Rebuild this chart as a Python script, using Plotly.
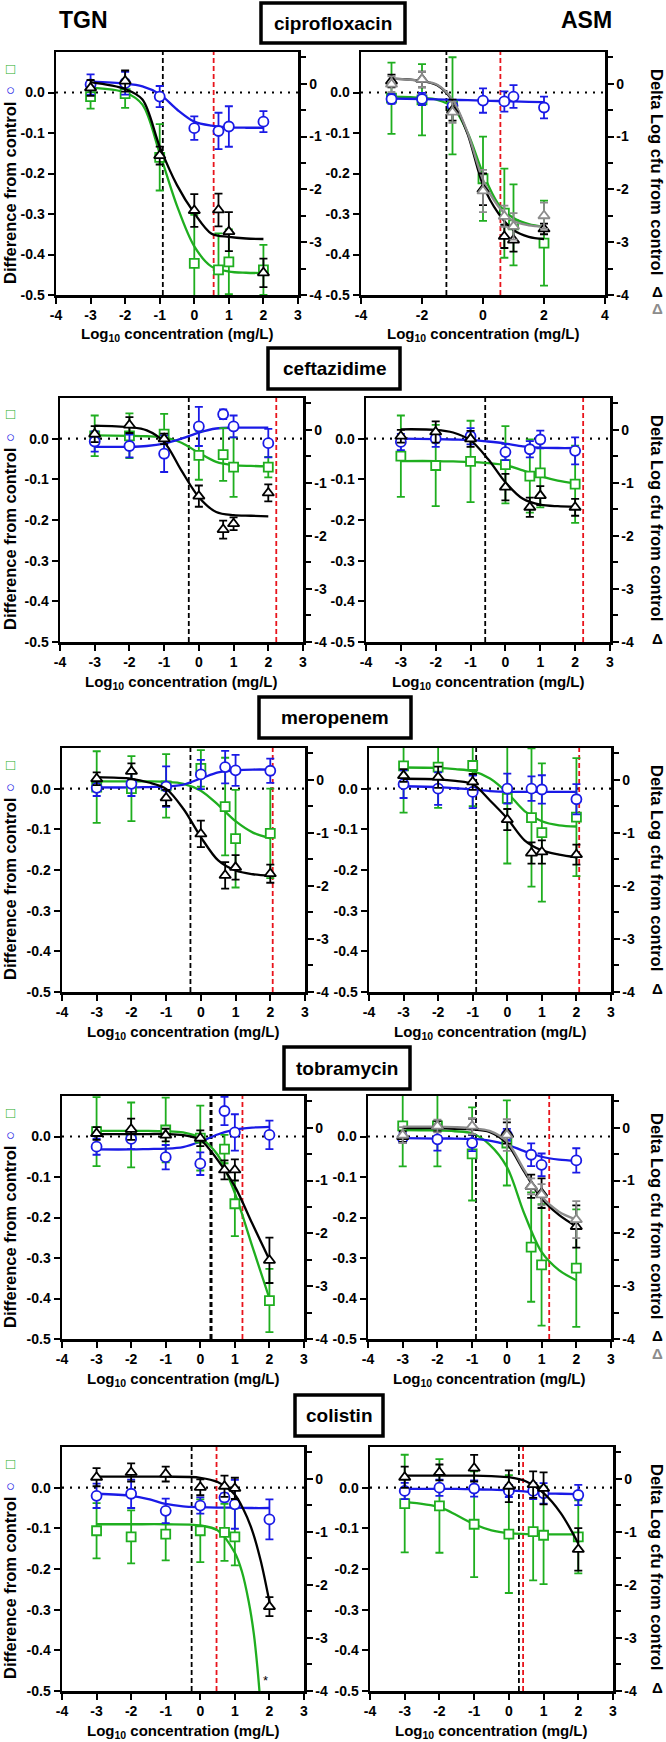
import plotly.graph_objects as go

W, H = 666, 1742

# ---------------- data ----------------
X_CONC = [-3, -2, -1, 0, 0.7, 1, 2]
CURVE_X = [-3, -2, -1.5, -1, -0.5, 0, 0.5, 1, 1.5, 2]

DRUGS = ["ciprofloxacin", "ceftazidime", "meropenem", "tobramycin", "colistin"]
MODELS = ["TGN", "ASM"]

# ciprofloxacin - TGN
CIP_TGN_GREEN = [-0.010, -0.003, -0.160, -0.422, -0.438, -0.418, -0.438]
CIP_TGN_GREEN_ERR = [0.030, 0.035, 0.082, 0.120, 0.090, 0.080, 0.062]
CIP_TGN_BLUE = [0.020, 0.023, -0.010, -0.088, -0.095, -0.084, -0.072]
CIP_TGN_BLUE_ERR = [0.025, 0.028, 0.026, 0.029, 0.045, 0.050, 0.026]
CIP_TGN_BLACK = [-0.08, 0.05, -1.36, -2.40, -2.39, -2.80, -3.58]
CIP_TGN_BLACK_ERR = [0.15, 0.20, 0.17, 0.31, 0.31, 0.37, 0.27]
CIP_TGN_GREEN_FIT = [0.012, 0.000, -0.030, -0.150, -0.280, -0.380, -0.430, -0.442, -0.445, -0.446]
CIP_TGN_BLUE_FIT = [0.027, 0.022, 0.015, -0.004, -0.042, -0.072, -0.082, -0.086, -0.087, -0.087]
CIP_TGN_BLACK_FIT = [0.03, -0.10, -0.30, -1.19, -1.92, -2.45, -2.84, -2.90, -2.93, -2.94]

# ciprofloxacin - ASM
CIP_ASM_GREEN = [-0.014, -0.018, -0.033, -0.213, -0.298, -0.327, -0.372]
CIP_ASM_GREEN_ERR = [0.088, 0.088, 0.120, 0.104, 0.110, 0.100, 0.105]
CIP_ASM_BLUE = [-0.016, -0.016, -0.033, -0.020, -0.022, -0.010, -0.037]
CIP_ASM_BLUE_ERR = [0.012, 0.015, 0.015, 0.030, 0.025, 0.028, 0.027]
CIP_ASM_BLACK = [0.05, 0.08, -0.50, -2.00, -2.89, -2.96, -2.75]
CIP_ASM_BLACK_ERR = [0.12, 0.15, 0.20, 0.30, 0.22, 0.22, 0.10]
CIP_ASM_GRAY = [-0.01, 0.08, -0.54, -2.03, -2.51, -2.70, -2.50]
CIP_ASM_GRAY_ERR = [0.15, 0.15, 0.20, 0.40, 0.20, 0.25, 0.25]
CIP_ASM_GREEN_FIT = [-0.010, -0.013, -0.018, -0.035, -0.100, -0.200, -0.275, -0.310, -0.325, -0.332]
CIP_ASM_BLUE_FIT = [-0.015, -0.016, -0.017, -0.018, -0.019, -0.020, -0.021, -0.022, -0.023, -0.024]
CIP_ASM_BLACK_FIT = [0.095, 0.05, -0.03, -0.32, -0.96, -1.92, -2.45, -2.77, -2.90, -2.94]
CIP_ASM_GRAY_FIT = [0.095, 0.05, -0.02, -0.30, -0.93, -1.82, -2.32, -2.60, -2.68, -2.70]

# ceftazidime - TGN
CAZ_TGN_GREEN = [0.007, 0.007, 0.011, -0.041, -0.039, -0.070, -0.070]
CAZ_TGN_GREEN_ERR = [0.050, 0.055, 0.050, 0.060, 0.065, 0.073, 0.025]
CAZ_TGN_BLUE = [-0.007, -0.018, -0.037, 0.030, 0.060, 0.030, -0.011]
CAZ_TGN_BLUE_ERR = [0.025, 0.028, 0.045, 0.048, 0.012, 0.027, 0.035]
CAZ_TGN_BLACK = [-0.08, 0.09, -0.17, -1.25, -1.88, -1.77, -1.19]
CAZ_TGN_BLACK_ERR = [0.15, 0.15, 0.10, 0.20, 0.17, 0.12, 0.16]
CAZ_TGN_GREEN_FIT = [0.008, 0.007, 0.006, 0.003, -0.010, -0.035, -0.057, -0.065, -0.067, -0.068]
CAZ_TGN_BLUE_FIT = [-0.020, -0.020, -0.018, -0.012, 0.000, 0.015, 0.025, 0.027, 0.027, 0.027]
CAZ_TGN_BLACK_FIT = [0.08, 0.05, -0.01, -0.23, -0.77, -1.27, -1.55, -1.61, -1.62, -1.63]

# ceftazidime - ASM
CAZ_ASM_GREEN = [-0.043, -0.066, -0.056, -0.064, -0.092, -0.084, -0.112]
CAZ_ASM_GREEN_ERR = [0.100, 0.100, 0.100, 0.095, 0.090, 0.085, 0.095]
CAZ_ASM_BLUE = [-0.008, 0.000, 0.006, -0.033, -0.026, -0.002, -0.030]
CAZ_ASM_BLUE_ERR = [0.020, 0.020, 0.020, 0.020, 0.020, 0.022, 0.033]
CAZ_ASM_BLACK = [-0.12, -0.04, -0.17, -1.08, -1.46, -1.24, -1.46]
CAZ_ASM_BLACK_ERR = [0.12, 0.20, 0.15, 0.25, 0.18, 0.18, 0.16]
CAZ_ASM_GREEN_FIT = [-0.055, -0.055, -0.056, -0.057, -0.060, -0.065, -0.078, -0.092, -0.103, -0.110]
CAZ_ASM_BLUE_FIT = [0.000, -0.001, -0.002, -0.003, -0.007, -0.012, -0.019, -0.022, -0.023, -0.023]
CAZ_ASM_BLACK_FIT = [0.01, 0.00, -0.05, -0.20, -0.55, -0.99, -1.30, -1.41, -1.44, -1.45]

# meropenem - TGN
MEM_TGN_GREEN = [0.004, 0.000, 0.007, 0.050, -0.044, -0.123, -0.110]
MEM_TGN_GREEN_ERR = [0.088, 0.080, 0.078, 0.045, 0.120, 0.120, 0.110]
MEM_TGN_BLUE = [0.002, 0.012, 0.005, 0.035, 0.053, 0.045, 0.044]
MEM_TGN_BLUE_ERR = [0.020, 0.030, 0.050, 0.036, 0.040, 0.038, 0.030]
MEM_TGN_BLACK = [0.02, 0.16, -0.34, -1.02, -1.80, -1.65, -1.77]
MEM_TGN_BLACK_ERR = [0.12, 0.15, 0.15, 0.25, 0.25, 0.23, 0.17]
MEM_TGN_GREEN_FIT = [0.018, 0.018, 0.018, 0.017, 0.012, -0.005, -0.040, -0.080, -0.108, -0.122]
MEM_TGN_BLUE_FIT = [0.003, 0.003, 0.004, 0.005, 0.010, 0.025, 0.040, 0.045, 0.047, 0.047]
MEM_TGN_BLACK_FIT = [0.05, 0.02, -0.05, -0.17, -0.55, -1.08, -1.52, -1.71, -1.78, -1.81]

# meropenem - ASM
MEM_ASM_GREEN = [0.056, 0.053, 0.057, -0.024, -0.071, -0.108, -0.070]
MEM_ASM_GREEN_ERR = [0.115, 0.100, 0.100, 0.160, 0.170, 0.170, 0.145]
MEM_ASM_BLUE = [0.011, 0.000, -0.008, 0.000, 0.000, -0.002, -0.026]
MEM_ASM_BLUE_ERR = [0.034, 0.040, 0.040, 0.037, 0.030, 0.035, 0.037]
MEM_ASM_BLACK = [0.08, 0.05, -0.04, -0.75, -1.38, -1.36, -1.41]
MEM_ASM_BLACK_ERR = [0.12, 0.20, 0.15, 0.20, 0.20, 0.22, 0.19]
MEM_ASM_GREEN_FIT = [0.052, 0.051, 0.048, 0.043, 0.025, -0.010, -0.055, -0.080, -0.090, -0.093]
MEM_ASM_BLUE_FIT = [0.006, 0.004, 0.001, -0.002, -0.006, -0.008, -0.008, -0.008, -0.008, -0.008]
MEM_ASM_BLACK_FIT = [0.02, 0.01, -0.02, -0.08, -0.39, -0.73, -1.14, -1.33, -1.41, -1.46]

# tobramycin - TGN
TOB_TGN_GREEN = [0.012, 0.004, 0.016, -0.004, -0.031, -0.166, -0.405]
TOB_TGN_GREEN_ERR = [0.085, 0.080, 0.080, 0.080, 0.035, 0.080, 0.078]
TOB_TGN_BLUE = [-0.025, -0.006, -0.051, -0.067, 0.063, 0.010, 0.004]
TOB_TGN_BLUE_ERR = [0.020, 0.025, 0.030, 0.028, 0.035, 0.045, 0.035]
TOB_TGN_BLACK = [-0.11, -0.03, -0.14, -0.20, -0.80, -0.80, -2.51]
TOB_TGN_BLACK_ERR = [0.12, 0.20, 0.12, 0.15, 0.18, 0.20, 0.43]
TOB_TGN_GREEN_FIT = [0.014, 0.014, 0.014, 0.013, 0.010, -0.004, -0.045, -0.140, -0.270, -0.400]
TOB_TGN_BLUE_FIT = [-0.032, -0.032, -0.031, -0.030, -0.026, -0.013, 0.005, 0.017, 0.022, 0.024]
TOB_TGN_BLACK_FIT = [-0.12, -0.12, -0.12, -0.12, -0.14, -0.23, -0.61, -1.11, -1.81, -2.50]

# tobramycin - ASM
TOB_ASM_GREEN = [0.026, 0.026, -0.043, -0.016, -0.273, -0.317, -0.325]
TOB_ASM_GREEN_ERR = [0.100, 0.100, 0.115, 0.105, 0.135, 0.150, 0.145]
TOB_ASM_BLUE = [-0.004, -0.007, -0.016, 0.004, -0.045, -0.070, -0.059]
TOB_ASM_BLUE_ERR = [0.012, 0.028, 0.020, 0.015, 0.028, 0.028, 0.030]
TOB_ASM_BLACK = [-0.17, 0.03, 0.02, -0.10, -1.11, -1.24, -1.87]
TOB_ASM_BLACK_ERR = [0.10, 0.10, 0.15, 0.20, 0.22, 0.28, 0.40]
TOB_ASM_GRAY = [-0.14, 0.03, 0.03, -0.14, -1.11, -1.27, -1.74]
TOB_ASM_GRAY_ERR = [0.15, 0.12, 0.15, 0.30, 0.15, 0.20, 0.35]
TOB_ASM_GREEN_FIT = [0.016, 0.015, 0.013, 0.008, -0.020, -0.075, -0.190, -0.285, -0.330, -0.355]
TOB_ASM_BLUE_FIT = [-0.004, -0.005, -0.005, -0.006, -0.010, -0.020, -0.036, -0.050, -0.057, -0.060]
TOB_ASM_BLACK_FIT = [-0.01, -0.01, -0.02, -0.03, -0.08, -0.30, -0.83, -1.34, -1.65, -1.87]
TOB_ASM_GRAY_FIT = [0.02, 0.02, 0.01, -0.01, -0.06, -0.26, -0.80, -1.30, -1.59, -1.74]

# colistin - TGN
COL_TGN_GREEN = [-0.106, -0.121, -0.114, -0.106, -0.110, -0.121, None]
COL_TGN_GREEN_ERR = [0.068, 0.065, 0.065, 0.077, 0.070, 0.070, None]
COL_TGN_BLUE = [-0.020, -0.015, -0.057, -0.044, -0.024, -0.041, -0.078]
COL_TGN_BLUE_ERR = [0.030, 0.035, 0.030, 0.020, 0.010, 0.060, 0.049]
COL_TGN_BLACK = [0.03, 0.12, 0.09, -0.16, -0.14, -0.18, -2.41]
COL_TGN_BLACK_ERR = [0.17, 0.17, 0.14, 0.15, 0.20, 0.20, 0.18]
COL_TGN_GREEN_FIT_X = [-3, -2, -1, 0, 0.5, 1, 1.2, 1.4, 1.55, 1.65, 1.74]
COL_TGN_GREEN_FIT = [-0.090, -0.090, -0.090, -0.093, -0.105, -0.160, -0.205, -0.280, -0.360, -0.440, -0.530]
COL_TGN_BLUE_FIT = [-0.015, -0.020, -0.028, -0.040, -0.046, -0.048, -0.049, -0.049, -0.050, -0.050]
COL_TGN_BLACK_FIT_X = [-3, -2, -1, 0, 0.5, 1, 1.25, 1.5, 1.75, 2]
COL_TGN_BLACK_FIT = [0.04, 0.04, 0.04, 0.02, -0.06, -0.30, -0.58, -0.97, -1.55, -2.32]
COL_TGN_STAR = ["*"]

# colistin - ASM
COL_ASM_GREEN = [-0.039, -0.045, -0.090, -0.114, -0.108, -0.117, -0.121]
COL_ASM_GREEN_ERR = [0.120, 0.115, 0.130, 0.145, 0.120, 0.120, 0.090]
COL_ASM_BLUE = [-0.008, 0.000, -0.002, -0.008, -0.008, -0.014, -0.018]
COL_ASM_BLUE_ERR = [0.020, 0.020, 0.020, 0.015, 0.020, 0.025, 0.025]
COL_ASM_BLACK = [0.03, 0.12, 0.20, -0.14, -0.11, -0.18, -1.33]
COL_ASM_BLACK_ERR = [0.20, 0.15, 0.25, 0.30, 0.25, 0.30, 0.40]
COL_ASM_GREEN_FIT = [-0.035, -0.048, -0.068, -0.090, -0.105, -0.112, -0.114, -0.115, -0.115, -0.115]
COL_ASM_BLUE_FIT = [-0.003, -0.003, -0.003, -0.004, -0.005, -0.006, -0.010, -0.014, -0.015, -0.016]
COL_ASM_BLACK_FIT = [0.06, 0.06, 0.06, 0.06, 0.05, 0.03, -0.05, -0.27, -0.65, -1.22]

# vertical reference lines (log10 mg/L): black dashed, red dashed
BLACK_VLINE = [-0.91, -1.20, -0.29, -0.58, -0.30, -0.90, 0.31, -0.89, -0.25, 0.29]
RED_VLINE = [0.56, 0.57, 2.23, 2.23, 2.07, 2.08, 1.22, 1.22, 0.47, 0.41]

LEFT_TICKS = [-0.5, -0.4, -0.3, -0.2, -0.1, 0.0]
LEFT_TICKTEXT = ["-0.5", "-0.4", "-0.3", "-0.2", "-0.1", "0.0"]
RIGHT_TICKS = [-4, -3, -2, -1, 0]
RIGHT_TICKTEXT = ["-4", "-3", "-2", "-1", "0"]
X_TICKS_A = [-4, -3, -2, -1, 0, 1, 2, 3]
X_TICKTEXT_A = ["-4", "-3", "-2", "-1", "0", "1", "2", "3"]
X_TICKS_B = [-4, -2, 0, 2, 4]
X_TICKTEXT_B = ["-4", "-2", "0", "2", "4"]

# ---------------- style ----------------
GREEN = "#1fae1f"
BLUE = "#1a1ae6"
BLACK = "#000000"
GRAY = "#8c8c8c"
RED = "#e8141c"
FONT = "Liberation Sans, Arial, sans-serif"

# panel rectangles in pixels
ROW_Y = [(52, 295), (398, 642), (748, 992), (1096, 1339), (1447, 1691)]
COL_X = [[(56, 298), (361, 605)], [(60, 303), (366, 610)], [(62, 305), (369, 611)],
         [(62, 304), (368, 611)], [(62, 304), (370, 613)]]
BOXES = [(261, 405, 3, 43), (268, 400, 348, 389), (259, 411, 697, 738),
         (284, 410, 1047, 1089), (295, 383, 1395, 1436)]


def px_x(p):
    return p / W


def px_y(p):
    return 1 - p / H


def pan(green, green_err, blue, blue_err, black, black_err, gfit, bfit, kfit,
        gray=None, gray_err=None, grayfit=None, gfit_x=None, kfit_x=None):
    return dict(green=green, green_err=green_err, blue=blue, blue_err=blue_err,
                black=black, black_err=black_err, gfit=gfit, bfit=bfit, kfit=kfit,
                gray=gray, gray_err=gray_err, grayfit=grayfit,
                gfit_x=gfit_x or CURVE_X, kfit_x=kfit_x or CURVE_X)


PANELS = [
    pan(CIP_TGN_GREEN, CIP_TGN_GREEN_ERR, CIP_TGN_BLUE, CIP_TGN_BLUE_ERR, CIP_TGN_BLACK,
        CIP_TGN_BLACK_ERR, CIP_TGN_GREEN_FIT, CIP_TGN_BLUE_FIT, CIP_TGN_BLACK_FIT),
    pan(CIP_ASM_GREEN, CIP_ASM_GREEN_ERR, CIP_ASM_BLUE, CIP_ASM_BLUE_ERR, CIP_ASM_BLACK,
        CIP_ASM_BLACK_ERR, CIP_ASM_GREEN_FIT, CIP_ASM_BLUE_FIT, CIP_ASM_BLACK_FIT,
        CIP_ASM_GRAY, CIP_ASM_GRAY_ERR, CIP_ASM_GRAY_FIT),
    pan(CAZ_TGN_GREEN, CAZ_TGN_GREEN_ERR, CAZ_TGN_BLUE, CAZ_TGN_BLUE_ERR, CAZ_TGN_BLACK,
        CAZ_TGN_BLACK_ERR, CAZ_TGN_GREEN_FIT, CAZ_TGN_BLUE_FIT, CAZ_TGN_BLACK_FIT),
    pan(CAZ_ASM_GREEN, CAZ_ASM_GREEN_ERR, CAZ_ASM_BLUE, CAZ_ASM_BLUE_ERR, CAZ_ASM_BLACK,
        CAZ_ASM_BLACK_ERR, CAZ_ASM_GREEN_FIT, CAZ_ASM_BLUE_FIT, CAZ_ASM_BLACK_FIT),
    pan(MEM_TGN_GREEN, MEM_TGN_GREEN_ERR, MEM_TGN_BLUE, MEM_TGN_BLUE_ERR, MEM_TGN_BLACK,
        MEM_TGN_BLACK_ERR, MEM_TGN_GREEN_FIT, MEM_TGN_BLUE_FIT, MEM_TGN_BLACK_FIT),
    pan(MEM_ASM_GREEN, MEM_ASM_GREEN_ERR, MEM_ASM_BLUE, MEM_ASM_BLUE_ERR, MEM_ASM_BLACK,
        MEM_ASM_BLACK_ERR, MEM_ASM_GREEN_FIT, MEM_ASM_BLUE_FIT, MEM_ASM_BLACK_FIT),
    pan(TOB_TGN_GREEN, TOB_TGN_GREEN_ERR, TOB_TGN_BLUE, TOB_TGN_BLUE_ERR, TOB_TGN_BLACK,
        TOB_TGN_BLACK_ERR, TOB_TGN_GREEN_FIT, TOB_TGN_BLUE_FIT, TOB_TGN_BLACK_FIT),
    pan(TOB_ASM_GREEN, TOB_ASM_GREEN_ERR, TOB_ASM_BLUE, TOB_ASM_BLUE_ERR, TOB_ASM_BLACK,
        TOB_ASM_BLACK_ERR, TOB_ASM_GREEN_FIT, TOB_ASM_BLUE_FIT, TOB_ASM_BLACK_FIT,
        TOB_ASM_GRAY, TOB_ASM_GRAY_ERR, TOB_ASM_GRAY_FIT),
    pan(COL_TGN_GREEN, COL_TGN_GREEN_ERR, COL_TGN_BLUE, COL_TGN_BLUE_ERR, COL_TGN_BLACK,
        COL_TGN_BLACK_ERR, COL_TGN_GREEN_FIT, COL_TGN_BLUE_FIT, COL_TGN_BLACK_FIT,
        gfit_x=COL_TGN_GREEN_FIT_X, kfit_x=COL_TGN_BLACK_FIT_X),
    pan(COL_ASM_GREEN, COL_ASM_GREEN_ERR, COL_ASM_BLUE, COL_ASM_BLUE_ERR, COL_ASM_BLACK,
        COL_ASM_BLACK_ERR, COL_ASM_GREEN_FIT, COL_ASM_BLUE_FIT, COL_ASM_BLACK_FIT),
]

fig = go.Figure()
layout = dict(
    width=W, height=H, margin=dict(l=0, r=0, t=0, b=0, autoexpand=False),
    paper_bgcolor="white", plot_bgcolor="white", showlegend=False,
    font=dict(family=FONT, color="black"),
)
shapes = []
annotations = []

tickfont = dict(family=FONT, size=14, color="black", weight="bold")
LW = 2.5


def err(arr, color):
    return dict(type="data", array=arr, visible=True, color=color, thickness=1.8, width=4)


def note(x, y, text, size, color="black", angle=0):
    annotations.append(dict(xref="paper", yref="paper", x=px_x(x), y=px_y(y), text=text,
                            showarrow=False, textangle=angle, xanchor="center", yanchor="middle",
                            font=dict(family=FONT, size=size, color=color)))


for i, p in enumerate(PANELS):
    row, col = divmod(i, 2)
    x0, x1 = COL_X[row][col]
    y0, y1 = ROW_Y[row]
    xa, yl, yr = i + 1, 2 * i + 1, 2 * i + 2
    xn = "x" if xa == 1 else f"x{xa}"
    yln = "y" if yl == 1 else f"y{yl}"
    yrn = f"y{yr}"
    xkey = "xaxis" if xa == 1 else f"xaxis{xa}"
    ylkey = "yaxis" if yl == 1 else f"yaxis{yl}"
    yrkey = f"yaxis{yr}"

    wide = (i == 1)
    layout[xkey] = dict(
        domain=[px_x(x0), px_x(x1)], anchor=yln, range=[-4, 4] if wide else [-4, 3],
        tickvals=X_TICKS_B if wide else X_TICKS_A,
        ticktext=X_TICKTEXT_B if wide else X_TICKTEXT_A,
        ticks="outside", ticklen=6, tickwidth=2, tickcolor="black",
        showline=True, linewidth=LW, linecolor="black", mirror=True,
        showgrid=False, zeroline=False, tickfont=tickfont, fixedrange=True,
    )
    layout[ylkey] = dict(
        domain=[px_y(y1), px_y(y0)], anchor=xn, range=[-0.5, 0.1],
        tickvals=LEFT_TICKS, ticktext=LEFT_TICKTEXT,
        ticks="outside", ticklen=6, tickwidth=2, tickcolor="black",
        showline=True, linewidth=LW, linecolor="black",
        showgrid=False, zeroline=False, tickfont=tickfont,
    )
    layout[yrkey] = dict(
        overlaying=yln, side="right", anchor=xn, range=[-4, 0.6],
        tickvals=RIGHT_TICKS, ticktext=RIGHT_TICKTEXT,
        ticks="outside", ticklen=6, tickwidth=2, tickcolor="black",
        minor=dict(ticks="outside", ticklen=5, tickwidth=2, tickcolor="black",
                   tick0=0, dtick=0.5, showgrid=False),
        showline=True, linewidth=LW, linecolor="black",
        showgrid=False, zeroline=False, tickfont=tickfont,
    )

    # reference lines
    shapes.append(dict(type="line", xref=f"{xn} domain", yref=yln, x0=0, x1=1, y0=0, y1=0,
                       line=dict(color="black", width=2.2, dash="2px,6px"), layer="below"))
    shapes.append(dict(type="line", xref=xn, yref=f"{yln} domain",
                       x0=BLACK_VLINE[i], x1=BLACK_VLINE[i], y0=0, y1=1,
                       line=dict(color="black", width=3 if i == 6 else 1.8, dash="5px,3px"),
                       layer="below"))
    shapes.append(dict(type="line", xref=xn, yref=f"{yln} domain",
                       x0=RED_VLINE[i], x1=RED_VLINE[i], y0=0, y1=1,
                       line=dict(color=RED, width=1.8, dash="5px,3px"), layer="below"))

    # fitted curves
    def curve(xs, ys, color, yref):
        fig.add_trace(go.Scatter(x=xs, y=ys, mode="lines", xaxis=xn, yaxis=yref,
                                 line=dict(color=color, width=2.3, shape="spline", smoothing=0.9),
                                 hoverinfo="skip"))

    curve(p["gfit_x"], p["gfit"], GREEN, yln)
    curve(CURVE_X, p["bfit"], BLUE, yln)
    curve(p["kfit_x"], p["kfit"], BLACK, yrn)
    if p["grayfit"] is not None:
        curve(CURVE_X, p["grayfit"], GRAY, yrn)

    # points
    def pts(ys, es, color, symbol, size, yref):
        fig.add_trace(go.Scatter(
            x=X_CONC, y=ys, mode="markers", xaxis=xn, yaxis=yref,
            marker=dict(symbol=symbol, size=size, color="white",
                        line=dict(color=color, width=1.8)),
            error_y=err(es, color)))

    pts(p["green"], p["green_err"], GREEN, "square", 9, yln)
    pts(p["blue"], p["blue_err"], BLUE, "circle", 10, yln)
    pts(p["black"], p["black_err"], BLACK, "triangle-up", 10, yrn)
    if p["gray"] is not None:
        pts(p["gray"], p["gray_err"], GRAY, "triangle-up", 10, yrn)

    # x axis title
    note((x0 + x1) / 2, y1 + 40, "<b>Log<sub>10</sub> concentration (mg/L)</b>", 15)

    if col == 0:
        note(10, y0 + 141, "<b>Difference from control</b>", 16.5, angle=-90)
        note(10, y0 + 38, "○", 15, BLUE)
        note(10, y0 + 16, "□", 15, GREEN)
    else:
        note(657, y0 + 120, "<b>Delta Log cfu from control</b>", 16.5, angle=90)
        note(657, y1 - 4, "<b>Δ</b>", 15)
        if p["gray"] is not None:
            note(657, y1 + 14, "<b>Δ</b>", 15, GRAY)

# asterisk in colistin TGN
annotations.append(dict(xref="x9", yref="y17", x=1.88, y=-0.475, text=COL_TGN_STAR[0],
                        showarrow=False, xanchor="center", yanchor="middle",
                        font=dict(family=FONT, size=13, color="black")))

# drug title boxes
for name, (bx0, bx1, by0, by1) in zip(DRUGS, BOXES):
    shapes.append(dict(type="rect", xref="paper", yref="paper",
                       x0=px_x(bx0), x1=px_x(bx1), y0=px_y(by1), y1=px_y(by0),
                       line=dict(color="black", width=3.5), fillcolor="white", layer="above"))
    note((bx0 + bx1) / 2, (by0 + by1) / 2, f"<b>{name}</b>", 19)

# model headers
note(84, 20, f"<b>{MODELS[0]}</b>", 23)
note(586, 20, f"<b>{MODELS[1]}</b>", 23)

layout["shapes"] = shapes
layout["annotations"] = annotations
fig.update_layout(**layout)
fig.write_html("out.html", config={"displayModeBar": False, "staticPlot": True},
               post_script="document.body.style.margin='0';document.body.style.overflow='hidden';")
